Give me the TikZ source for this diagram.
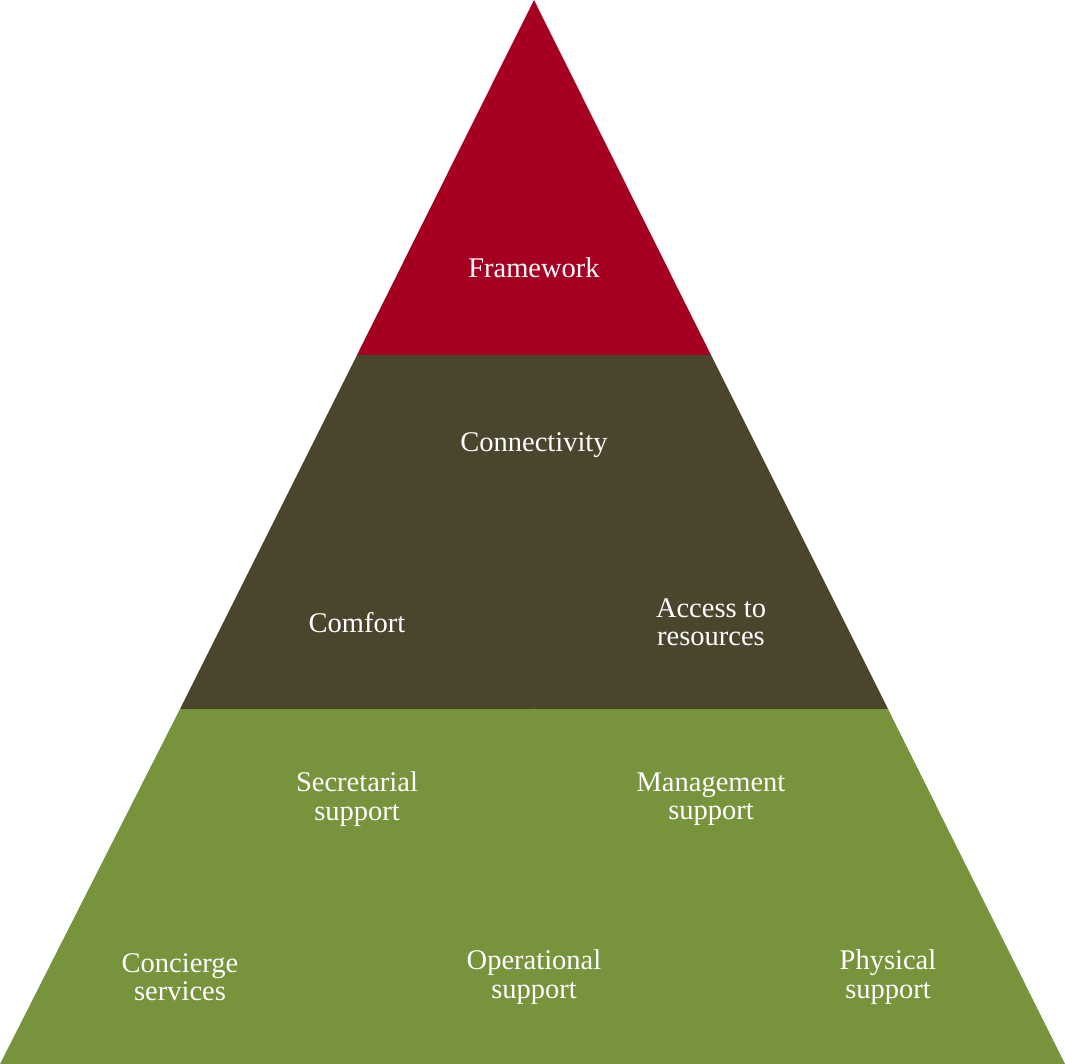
\documentclass[tikz,border=0pt]{standalone}
\usepackage{fontspec}
\setmainfont{Liberation Serif}
\definecolor{topred}{HTML}{A50021}
\definecolor{midolive}{HTML}{4B452D}
\definecolor{lowgreen}{HTML}{77933C}
\definecolor{midedge}{HTML}{534D36}
\definecolor{lowedge}{HTML}{7F9A46}
\begin{document}
\begin{tikzpicture}[x=1pt,y=-1pt,
  lbl/.style={text=white,font=\fontsize{28.5}{28.5}\selectfont,align=center,inner sep=0pt},
  seam/.style={line width=0.5pt}]
\useasboundingbox (0,0) rectangle (1065,1064);
% top
\fill[topred] (534,0) -- (357,355) -- (711,355) -- cycle;
% middle band
\fill[midolive] (357,355) -- (180,709) -- (888,709) -- (711,355) -- cycle;
\draw[seam,midedge] (357,355) -- (534,709) -- (711,355);
% bottom band
\fill[lowgreen] (180,709) -- (0,1064) -- (1065,1064) -- (888,709) -- cycle;
\draw[seam,lowedge] (180,709) -- (357,1064) -- (534,709) -- (711,1064) -- (888,709);
% labels
\node[lbl] (fw) at (534,268) {Framework};
\node[lbl] (cn) at (534,445) {Connectivity};
\node[lbl] (cf) at (357,623) {Comfort};
\node[lbl] (ar) at (711,622) {Access to\\resources};
\node[lbl] (ss) at (357,799) {Secretarial\\support};
\node[lbl] (ms) at (711,799) {Management\\support};
\node[lbl] (cs) at (180,977) {Concierge\\services};
\node[lbl] (os) at (534,977) {Operational\\support};
\node[lbl] (ps) at (888,977) {Physical\\support};
\end{tikzpicture}
\end{document}
